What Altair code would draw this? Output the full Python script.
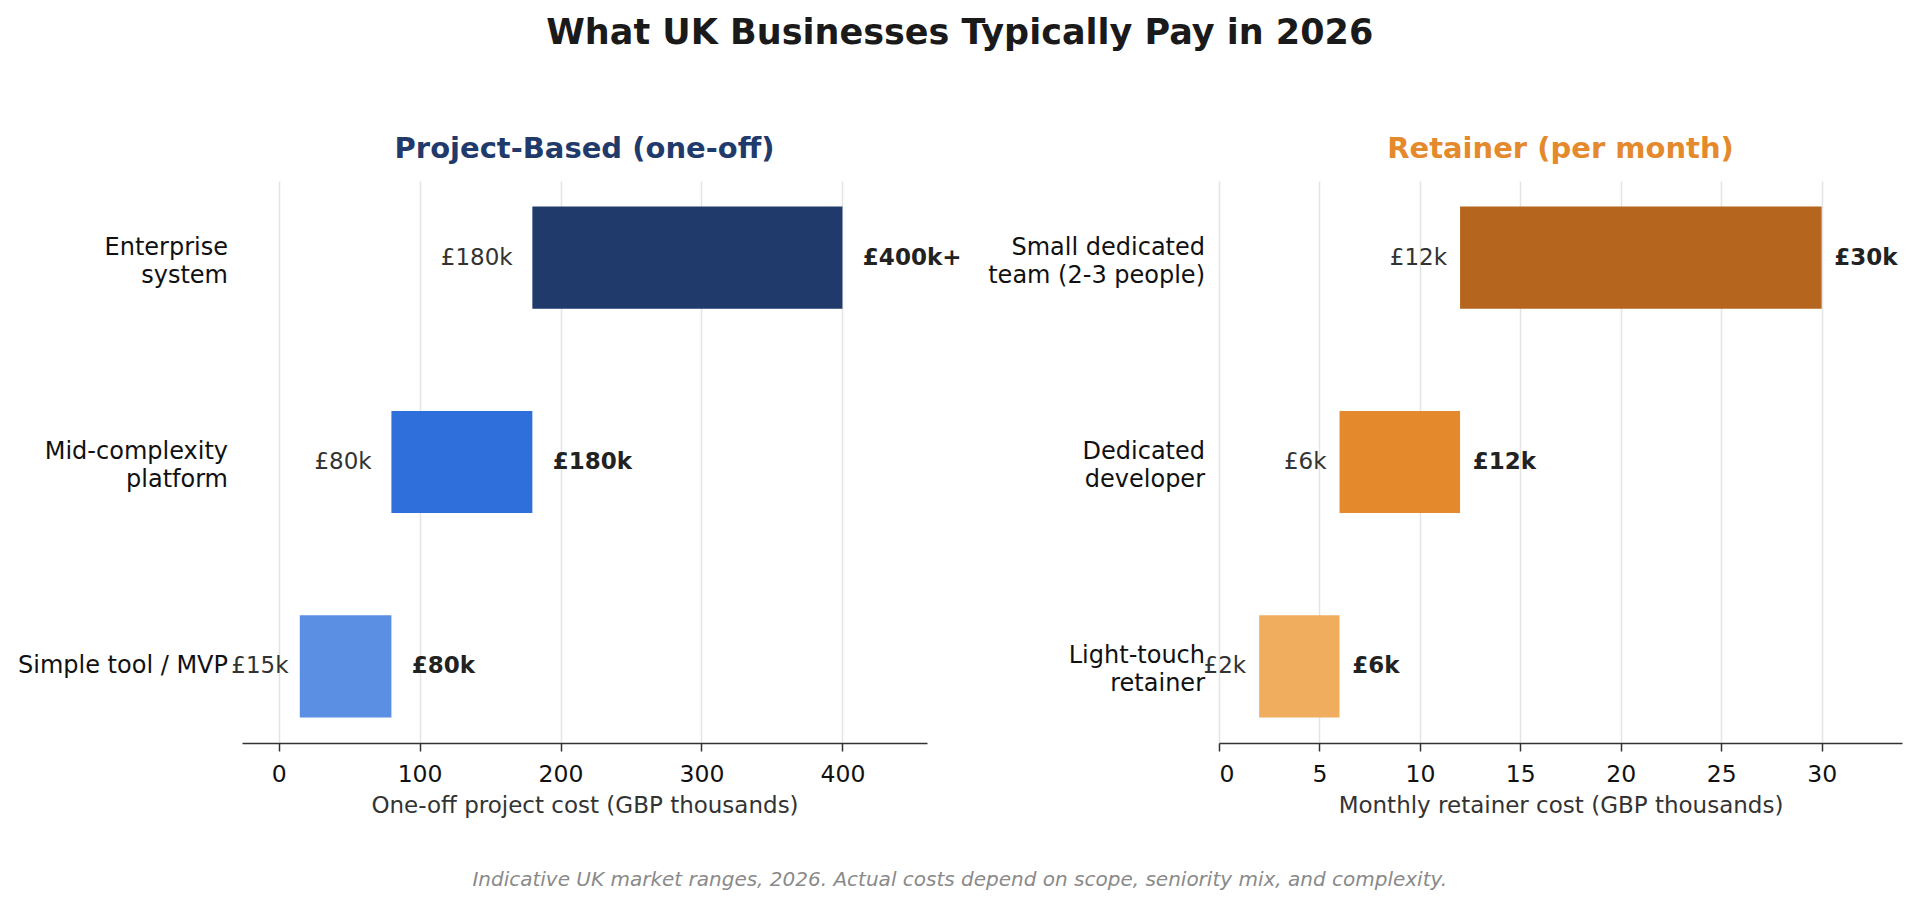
import altair as alt
import pandas as pd

FONT = "DejaVu Sans"

# ---- data: project-based (one-off), GBP thousands ----
proj_categories = ["Enterprise|system", "Mid-complexity|platform", "Simple tool / MVP"]
proj_low = [180, 80, 15]
proj_high = [400, 180, 80]
proj_low_text = ["£180k", "£80k", "£15k"]
proj_high_text = ["£400k+", "£180k", "£80k"]
proj_ticks = [0, 100, 200, 300, 400]
proj_colors = ["#1f3a6b", "#2f6fdc", "#5b8fe4"]

# ---- data: retainer (per month), GBP thousands ----
ret_categories = ["Small dedicated|team (2-3 people)", "Dedicated|developer", "Light-touch|retainer"]
ret_low = [12, 6, 2]
ret_high = [30, 12, 6]
ret_low_text = ["£12k", "£6k", "£2k"]
ret_high_text = ["£30k", "£12k", "£6k"]
ret_ticks = [0, 5, 10, 15, 20, 25, 30]
ret_colors = ["#b5651d", "#e58a2c", "#f0ad5e"]


def panel(cats, low, high, low_text, high_text, ticks, colors, domain,
          xtitle, title, title_color, width, lo_off, hi_off, lo_min):
    df = pd.DataFrame({"cat": cats, "low": low, "high": high,
                       "low_text": low_text, "high_text": high_text})
    yaxis = alt.Axis(labelExpr="split(datum.label, '|')", labelFont=FONT,
                     labelFontSize=24, labelColor="#111", labelLineHeight=28,
                     labelPadding=14.5, ticks=False, domain=False, grid=False,
                     labelAlign="right", labelBaseline="middle", labelLimit=400,
                     labelOffset={"condition": {"test": "indexof(datum.label, '|') >= 0",
                                                "value": -10}, "value": 0})
    yscale = alt.Scale(paddingInner=0.5, paddingOuter=0.125)
    y = alt.Y("cat:N", sort=cats, title=None, scale=yscale, axis=yaxis)
    xscale = alt.Scale(domain=domain, nice=False, zero=False)
    xaxis = alt.Axis(values=ticks, grid=True, gridColor="#e4e4e4", gridWidth=1.5,
                     domainColor="#333", domainWidth=1.5, tickColor="#333",
                     tickSize=8, tickWidth=1.5, labelPadding=11, labelFont=FONT,
                     labelFontSize=23.5, labelColor="#111", titleFont=FONT,
                     titleFontSize=23, titleFontWeight="normal", titleColor="#333",
                     titlePadding=9, format="d")
    base = alt.Chart(df).transform_calculate(
        lo_pos=f"max(datum.low - {lo_off}, {lo_min})",
        hi_pos=f"datum.high + {hi_off}",
    )
    bars = base.mark_bar().encode(
        x=alt.X("low:Q", scale=xscale, axis=xaxis, title=xtitle),
        x2="high:Q",
        y=y,
        color=alt.Color("cat:N", scale=alt.Scale(domain=cats, range=colors), legend=None),
    )
    lo = base.mark_text(align="right", baseline="middle", font=FONT,
                        fontSize=23, color="#333").encode(
        x=alt.X("lo_pos:Q", title=xtitle),
        y=alt.Y("cat:N", sort=cats, title=None),
        text="low_text:N",
    )
    hi = base.mark_text(align="left", baseline="middle", font=FONT,
                        fontSize=23, fontWeight="bold", color="#222").encode(
        x=alt.X("hi_pos:Q", title=xtitle),
        y=alt.Y("cat:N", sort=cats, title=None),
        text="high_text:N",
    )
    return alt.layer(bars, lo, hi).properties(
        width=width, height=562,
        title=alt.TitleParams(title, color=title_color, font=FONT, fontSize=29,
                              fontWeight="bold", anchor="middle", offset=17),
    )


left = panel(proj_categories, proj_low, proj_high, proj_low_text, proj_high_text,
             proj_ticks, proj_colors, [-26, 460],
             "One-off project cost (GBP thousands)", "Project-Based (one-off)",
             "#1f3a6b", 685, 14, 14.5, 7)
right = panel(ret_categories, ret_low, ret_high, ret_low_text, ret_high_text,
              ret_ticks, ret_colors, [0, 34],
              "Monthly retainer cost (GBP thousands)", "Retainer (per month)",
              "#e58a2c", 683, 0.65, 0.63, -10)

inner = alt.hconcat(left, right, spacing=25).resolve_scale(color="independent").properties(
    title=alt.TitleParams(
        "Indicative UK market ranges, 2026. Actual costs depend on scope, seniority mix, and complexity.",
        orient="bottom", anchor="middle", font=FONT, fontSize=20, fontStyle="italic",
        fontWeight="normal", color="#8a8a8a", offset=52),
)

chart = alt.vconcat(inner).properties(
    title=alt.TitleParams("What UK Businesses Typically Pay in 2026", font=FONT,
                          fontSize=35, fontWeight="bold", color="#1a1a1a",
                          anchor="middle", offset=84),
    padding={"left": 9, "top": 8, "right": 5, "bottom": 5},
).configure(background="white").configure_view(stroke="transparent", strokeWidth=0)

chart.save("out.html", embed_options={"renderer": "svg", "actions": False})
